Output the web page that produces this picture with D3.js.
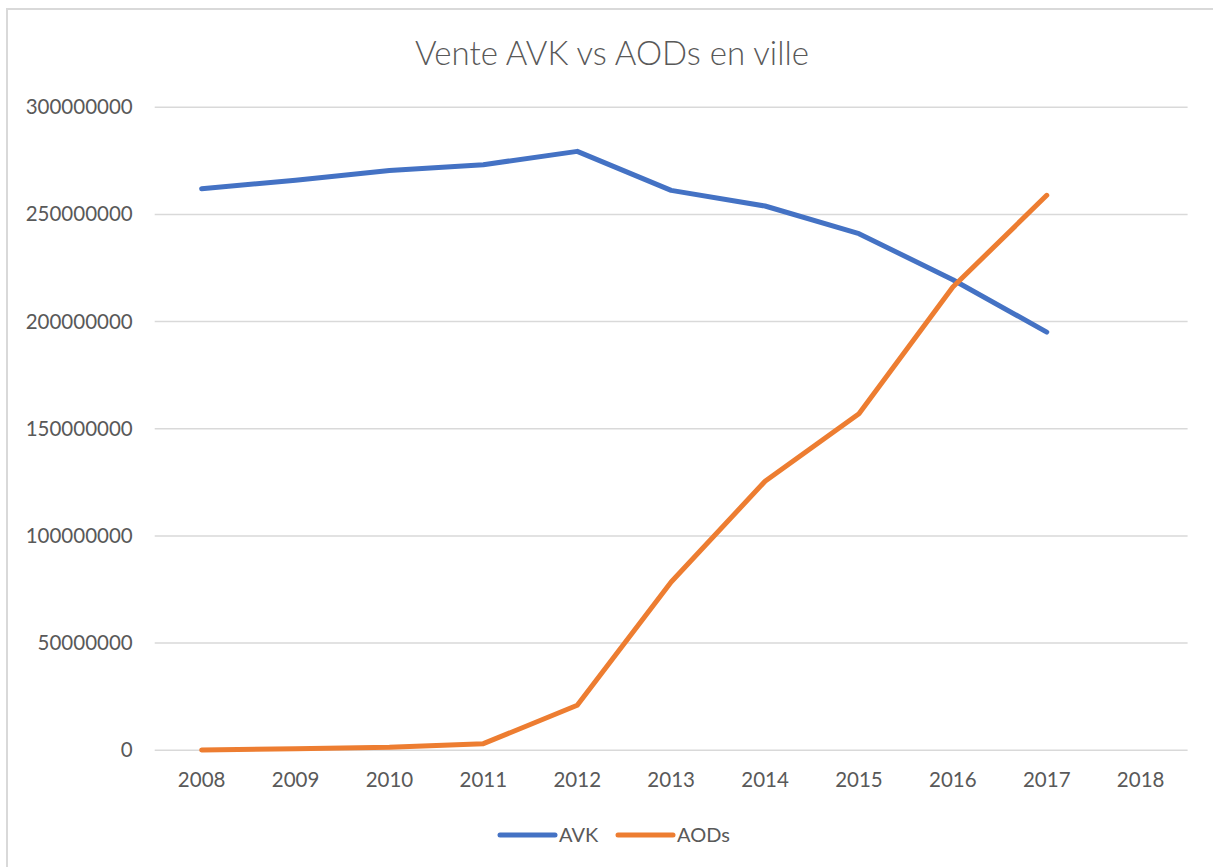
<!DOCTYPE html>
<html>
<head>
<meta charset="utf-8">
<script src="https://cdn.jsdelivr.net/npm/d3@7"></script>
<style>
    body { margin: 0; background: #fff; }
    svg text { font-family: Lato, "Open Sans", sans-serif; fill: #595959; }
</style>
</head>
<body>
<svg id="chart-svg" width="1213" height="867"></svg>
<script>
// Values
const years = ["2008", "2009", "2010", "2011", "2012", "2013", "2014", "2015", "2016", "2017", "2018"];
const avkSales = [262000000, 265900000, 270500000, 273200000, 279400000, 261200000, 253900000, 241000000, 219500000, 195100000];
const aodSales = [100000, 700000, 1400000, 3100000, 21000000, 78500000, 125500000, 157000000, 216100000, 258900000];
const yTicks = [0, 50000000, 100000000, 150000000, 200000000, 250000000, 300000000];

const series = [
    { name: "AVK", values: avkSales, color: "#4472C4" },
    { name: "AODs", values: aodSales, color: "#ED7D31" }
];

const svg = d3.select("#chart-svg");

// chart frame (only top and left edges show in the picture)
svg.append("path")
    .attr("d", "M7,867 V9 H1213")
    .attr("fill", "none")
    .attr("stroke", "#d9d9d9")
    .attr("stroke-width", 2);

const plotLeft = 154.7, plotRight = 1187.6;
const plotTop = 107.2, plotBottom = 750.3;

const x = d3.scaleBand()
    .domain(years)
    .range([plotLeft, plotRight]);

const y = d3.scaleLinear()
    .domain([0, 300000000])
    .range([plotBottom, plotTop]);

// gridlines
svg.append("g")
    .selectAll("line")
    .data(yTicks)
    .join("line")
    .attr("x1", plotLeft)
    .attr("x2", plotRight)
    .attr("y1", d => y(d))
    .attr("y2", d => y(d))
    .attr("stroke", "#d9d9d9")
    .attr("stroke-width", 1.5);

// y axis labels
const yAxis = svg.append("g")
    .attr("transform", `translate(${plotLeft}, 0)`)
    .call(d3.axisLeft(y).tickValues(yTicks).tickFormat(d3.format("d")).tickSize(0).tickPadding(22));
yAxis.select(".domain").remove();
yAxis.selectAll("text")
    .attr("font-size", 20.5)
    .attr("font-family", null)
    .attr("fill", null);

// x axis labels
const xAxis = svg.append("g")
    .attr("transform", `translate(0, ${plotBottom})`)
    .call(d3.axisBottom(x).tickSize(0).tickPadding(22));
xAxis.select(".domain").remove();
xAxis.selectAll("text")
    .attr("font-size", 20.5)
    .attr("font-family", null)
    .attr("fill", null);

// lines
const line = d3.line()
    .x((d, i) => x(years[i]) + x.bandwidth() / 2)
    .y(d => y(d));

svg.append("g")
    .selectAll("path")
    .data(series)
    .join("path")
    .attr("d", d => line(d.values))
    .attr("fill", "none")
    .attr("stroke", d => d.color)
    .attr("stroke-width", 5)
    .attr("stroke-linejoin", "round")
    .attr("stroke-linecap", "round");

// title
svg.append("text")
    .attr("x", 612)
    .attr("y", 65)
    .attr("text-anchor", "middle")
    .attr("font-size", 33)
    .attr("font-weight", 300)
    .text("Vente AVK vs AODs en ville");

// legend
const legendX = [500, 618];
const legend = svg.append("g")
    .selectAll("g")
    .data(series)
    .join("g")
    .attr("transform", (d, i) => `translate(${legendX[i]}, 835)`);

legend.append("line")
    .attr("x1", 0)
    .attr("x2", 55)
    .attr("stroke", d => d.color)
    .attr("stroke-width", 5)
    .attr("stroke-linecap", "round");

legend.append("text")
    .attr("x", 59)
    .attr("y", 7)
    .attr("font-size", 20)
    .text(d => d.name);
</script>
</body>
</html>
